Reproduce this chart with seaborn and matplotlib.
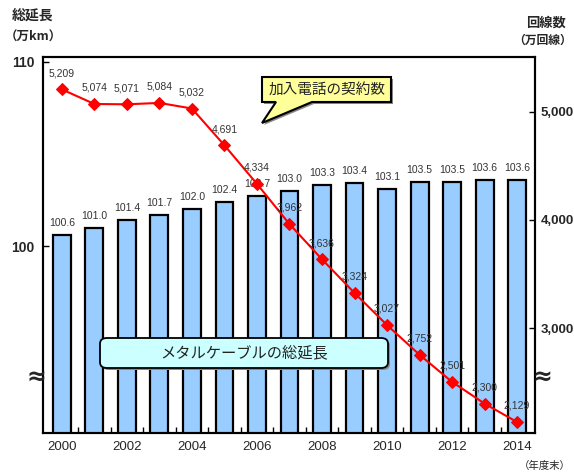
import numpy as np
import pandas as pd
import seaborn as sns
import matplotlib
matplotlib.use("Agg")
import matplotlib.pyplot as plt
from matplotlib.patches import FancyBboxPatch, Polygon

# ---- data ----
years = list(range(2000, 2015))
cable_length = [100.6, 101.0, 101.4, 101.7, 102.0, 102.4, 102.7, 103.0,
                103.3, 103.4, 103.1, 103.5, 103.5, 103.6, 103.6]
subscriptions = [5209, 5074, 5071, 5084, 5032, 4691, 4334, 3962,
                 3636, 3324, 3027, 2752, 2501, 2300, 2129]
xtick_years = [2000, 2002, 2004, 2006, 2008, 2010, 2012, 2014]
left_ticks = [100, 110]
right_ticks = [3000, 4000, 5000]

sns.set_theme(style="white")
FAM = ["Liberation Sans", "Noto Sans CJK JP", "DejaVu Sans"]
JFAM = ["Noto Sans CJK JP", "DejaVu Sans"]
plt.rcParams["font.family"] = FAM

W, H = 574, 475
fig = plt.figure(figsize=(W / 100, H / 100), dpi=100)
fig.patch.set_facecolor("white")


def fx(x):
    return x / W


def fy(y):
    return 1 - y / H


ax = fig.add_axes([fx(43), fy(433), (535 - 43) / W, (433 - 57) / H])
ax.set_facecolor("white")

df = pd.DataFrame({"year": years, "length": cable_length, "subs": subscriptions})

sns.barplot(data=df, x="year", y="length", native_scale=True, width=0.55,
            color="#99CCFF", saturation=1, edgecolor="black", linewidth=1.6,
            ax=ax, zorder=2)
ax.set_xlim(1999.42, 2014.55)
ax.set_ylim(89.84, 110.27)
for x, v in zip(years, cable_length):
    ax.annotate(f"{v:.1f}", (x, v), xytext=(0, 5), textcoords="offset points",
                ha="center", va="bottom", fontsize=7.5, color="#333333")

ax.set_yticks(left_ticks)
ax.set_yticklabels([str(t) for t in left_ticks], fontsize=10, fontweight="bold")
ax.set_xticks(xtick_years)
ax.set_xticklabels([str(t) for t in xtick_years], fontsize=9.5)
ax.set_xticks([y + 0.5 for y in years[:-1]], minor=True)
ax.tick_params(axis="x", which="major", length=0, pad=6)
ax.tick_params(axis="x", which="minor", direction="in", length=4, width=1,
               color="black", bottom=True)
ax.tick_params(axis="y", direction="in", length=4, width=1, color="black",
               left=True, pad=6)
ax.set_xlabel("")
ax.set_ylabel("")
for s in ax.spines.values():
    s.set_color("black")
    s.set_linewidth(1.5)

ax2 = ax.twinx()
sns.lineplot(data=df, x="year", y="subs", ax=ax2, color="red", marker="D",
             markersize=6, markeredgecolor="red", linewidth=1.5, zorder=3)
ax2.set_ylim(2028, 5509)
ax2.set_xlim(1999.42, 2014.55)
ax2.set_yticks(right_ticks)
ax2.set_yticklabels([f"{t:,}" for t in right_ticks], fontsize=9.5, fontweight="bold")
ax2.tick_params(axis="y", direction="in", length=4, width=1, color="black",
                right=True, pad=4)
ax2.set_ylabel("")
ax2.set_xlabel("")
for s in ax2.spines.values():
    s.set_color("black")
    s.set_linewidth(1.5)
for x, v in zip(years, subscriptions):
    ax2.annotate(f"{v:,}", (x, v), xytext=(0, 8), textcoords="offset points",
                 ha="center", va="bottom", fontsize=7.5, color="#333333")

# axis titles
fig.text(fx(33), fy(16), "総延長", fontsize=10, fontweight="bold",
         ha="center", va="center", family=JFAM)
fig.text(fx(33), fy(37), "（万km）", fontsize=9, fontweight="bold",
         ha="center", va="center", family=JFAM)
fig.text(fx(546), fy(23), "回線数", fontsize=9.5, fontweight="bold",
         ha="center", va="center", family=JFAM)
fig.text(fx(543), fy(40), "（万回線）", fontsize=8.5, fontweight="bold",
         ha="center", va="center", family=JFAM)
fig.text(fx(571), fy(466), "（年度末）", fontsize=7.5,
         ha="right", va="center", family=JFAM)

# break marks
fig.text(fx(36), fy(377), "≈", fontsize=17, fontweight="bold",
         ha="center", va="center", family=["DejaVu Sans"])
fig.text(fx(542), fy(377), "≈", fontsize=17, fontweight="bold",
         ha="center", va="center", family=["DejaVu Sans"])

# callout for line
pts = [(262, 77), (391, 77), (391, 102), (312, 102), (262, 123), (276, 102), (262, 102)]
shadow = Polygon([(fx(x + 2), fy(y + 2)) for x, y in pts], closed=True,
                 transform=fig.transFigure, facecolor="#888888", edgecolor="none",
                 zorder=9)
fig.patches.append(shadow)
callout = Polygon([(fx(x), fy(y)) for x, y in pts], closed=True,
                  transform=fig.transFigure, facecolor="#FFFF99",
                  edgecolor="black", linewidth=1.5, zorder=10)
fig.patches.append(callout)
fig.text(fx(327), fy(90), "加入電話の契約数", fontsize=10.5, ha="center",
         va="center", family=JFAM, zorder=11, color="#222222")

# legend box for bars
bx0, by0, bx1, by1 = 100, 338, 388, 368
sh = FancyBboxPatch((fx(bx0 + 2), fy(by1 + 2)), (bx1 - bx0) / W, (by1 - by0) / H,
                    boxstyle="round,pad=0,rounding_size=0.012",
                    transform=fig.transFigure, facecolor="#888888",
                    edgecolor="none", zorder=9)
fig.patches.append(sh)
box = FancyBboxPatch((fx(bx0), fy(by1)), (bx1 - bx0) / W, (by1 - by0) / H,
                     boxstyle="round,pad=0,rounding_size=0.012",
                     transform=fig.transFigure, facecolor="#CCFFFF",
                     edgecolor="black", linewidth=1.3, zorder=10)
fig.patches.append(box)
fig.text(fx(244), fy(353), "メタルケーブルの総延長", fontsize=11, ha="center",
         va="center", family=JFAM, zorder=11, color="#222222")

fig.savefig("out.png", dpi=100, facecolor="white")
